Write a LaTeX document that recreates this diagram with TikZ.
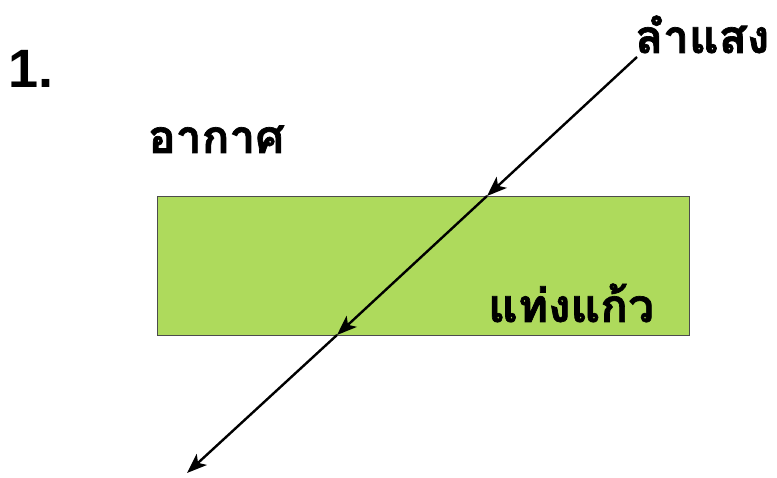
\documentclass[tikz,border=0pt]{standalone}
\usepackage{fontspec}
\newfontfamily\thaifont[Script=Thai,FakeBold=1.5]{Loma}
\setmainfont{Liberation Sans}
\usetikzlibrary{arrows.meta}
\definecolor{glass}{HTML}{AEDA5C}
\tikzset{
  ray/.style={line width=2.4pt,-{Stealth[length=20pt,width=15pt,inset=5pt]}},
  lbl/.style={font=\thaifont\bfseries\fontsize{46}{46}\selectfont,inner sep=0pt,anchor=base west},
}
\begin{document}
\begin{tikzpicture}[x=1pt,y=-1pt]
\useasboundingbox (0,0) rectangle (777,478);
\node[draw=black!70,line width=1pt,fill=glass,minimum width=532pt,minimum height=139pt,inner sep=0pt,anchor=north west] (glassbar) at (157,196) {};
\node[font=\bfseries\fontsize{54}{54}\selectfont,inner sep=0pt,anchor=base west] (num) at (8,88) {1.};
\node[lbl] (light) at (635,53) {ลำแสง};
\node[lbl] (air) at (148,153) {อากาศ};
\node[lbl] (glasslbl) at (488,322) {แท่งแก้ว};
\coordinate (A) at (637,57);
\coordinate (B) at (487,196);
\coordinate (C) at (337,335);
\coordinate (D) at (187,473);
\draw[ray] (A) -- (B);
\draw[ray] (B) -- (C);
\draw[ray] (C) -- (D);
\end{tikzpicture}
\end{document}
